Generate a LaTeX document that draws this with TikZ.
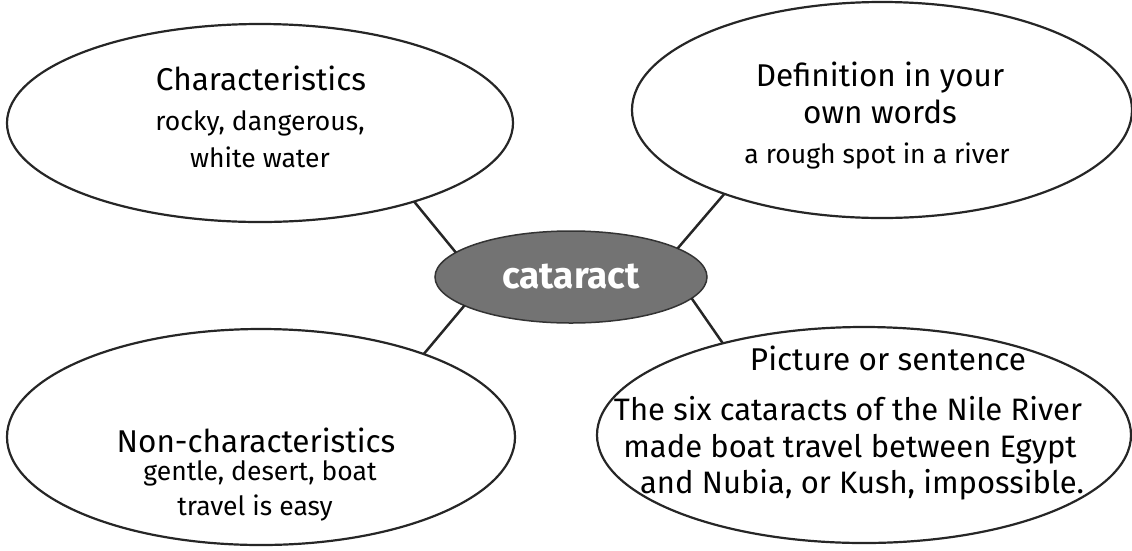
\documentclass[tikz,border=0pt]{standalone}
\usepackage{fontspec}
\setmainfont{Fira Sans}
\usetikzlibrary{shapes.geometric}
\begin{document}
\begin{tikzpicture}[x=1pt,y=-1pt,
  bubble/.style={draw=black!85, line width=2.2pt, ellipse, fill=white, inner sep=0pt, outer sep=0pt},
  hub/.style={draw=black!80, line width=1.5pt, ellipse, fill=black!55, inner sep=0pt, outer sep=0pt,
    text=white, font=\bfseries\fontsize{37}{40}\selectfont},
  link/.style={draw=black!85, line width=2.5pt},
  head/.style={anchor=base, font=\fontsize{31.5}{34}\selectfont, inner sep=0pt},
  body/.style={anchor=base, font=\fontsize{26.5}{29}\selectfont, inner sep=0pt},
  bigbody/.style={anchor=base, font=\fontsize{31}{34}\selectfont, inner sep=0pt},
]
\useasboundingbox (0,0) rectangle (1132,550);

\node[bubble, minimum width=506pt, minimum height=198pt] (tl) at (260,123) {};
\node[bubble, minimum width=500pt, minimum height=216pt] (tr) at (882,110) {};
\node[bubble, minimum width=508pt, minimum height=216pt] (bl) at (261,437) {};
\node[bubble, minimum width=534pt, minimum height=216pt] (br) at (864,435) {};
\node[hub, minimum width=272pt, minimum height=92pt] (c) at (571,277) {cataract};

\draw[link] (c.168) -- (tl.-27.8);
\draw[link] (c.15.4) -- (tr.208.5);
\draw[link] (c.195.3) -- (bl.27.8);
\draw[link] (c.-10.2) -- (br.147);

\node[head] (tlh) at (261,90) {Characteristics};
\node[body] (tlb1) at (260,130) {rocky, dangerous,};
\node[body] (tlb2) at (260,167) {white water};

\node[head] (trh1) at (880,86) {Definition in your};
\node[head] (trh2) at (880,123) {own words};
\node[body] (trb1) at (877,163) {a rough spot in a river};

\node[head] (blh) at (256,452) {Non-characteristics};
\node[body] (blb1) at (260,480) {gentle, desert, boat};
\node[body] (blb2) at (255,515) {travel is easy};

\node[head] (brh) at (888,370) {Picture or sentence};
\node[bigbody] (brb1) at (848,420) {The six cataracts of the Nile River};
\node[bigbody] (brb2) at (850,457) {made boat travel between Egypt};
\node[bigbody] (brb3) at (862,493) {and Nubia, or Kush, impossible.};
\end{tikzpicture}
\end{document}
